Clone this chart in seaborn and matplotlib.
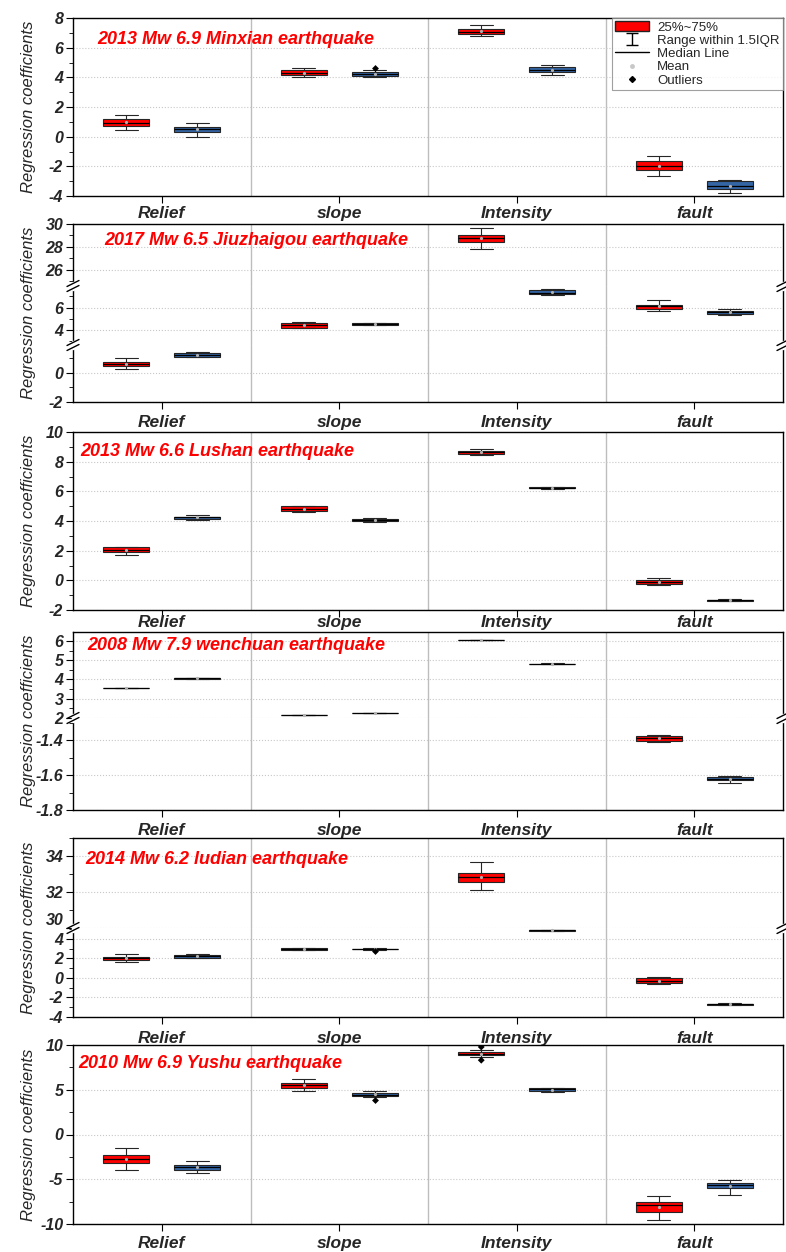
import numpy as np
import pandas as pd
import matplotlib.pyplot as plt
import seaborn as sns
from matplotlib.lines import Line2D
from matplotlib.patches import Patch
from matplotlib.path import Path
from matplotlib.ticker import MultipleLocator, FuncFormatter

factors = ['Relief', 'slope', 'Intensity', 'fault']
groups = ['red', 'blue']
colors = {'red': '#ff0000', 'blue': '#3465a4'}

# each box: [lower whisker, q1, median, q3, upper whisker], one per factor
minxian_red = [[0.47, 0.74, 0.95, 1.22, 1.49], [3.99, 4.17, 4.30, 4.47, 4.66],
               [6.80, 6.92, 7.05, 7.24, 7.50], [-2.65, -2.25, -1.95, -1.65, -1.30]]
minxian_blue = [[-0.05, 0.34, 0.50, 0.68, 0.95], [3.99, 4.11, 4.22, 4.33, 4.50],
                [4.15, 4.35, 4.50, 4.70, 4.85], [-3.80, -3.50, -3.30, -3.00, -2.95]]
minxian_out = [('slope', 'blue', 4.60)]

jiuzhai_red = [[0.28, 0.46, 0.62, 0.78, 1.03], [4.10, 4.18, 4.45, 4.64, 4.70],
               [27.83, 28.43, 28.74, 29.04, 29.65], [5.64, 5.90, 6.10, 6.27, 6.64]]
jiuzhai_blue = [[1.08, 1.10, 1.24, 1.38, 1.42], [4.38, 4.40, 4.50, 4.60, 4.62],
                [7.10, 7.18, 7.36, 7.55, 7.65], [5.36, 5.45, 5.55, 5.64, 5.90]]
jiuzhai_out = []

lushan_red = [[1.74, 1.91, 2.05, 2.22, 2.28], [4.60, 4.68, 4.83, 4.98, 5.00],
              [8.45, 8.52, 8.65, 8.72, 8.86], [-0.33, -0.25, -0.10, 0.05, 0.13]]
lushan_blue = [[4.10, 4.16, 4.24, 4.30, 4.43], [3.95, 4.00, 4.08, 4.16, 4.20],
               [6.18, 6.20, 6.24, 6.28, 6.30], [-1.40, -1.38, -1.34, -1.30, -1.27]]
lushan_out = []

wenchuan_red = [[3.53, 3.54, 3.55, 3.56, 3.57], [2.14, 2.145, 2.15, 2.155, 2.16],
                [6.04, 6.045, 6.05, 6.055, 6.06], [-1.41, -1.405, -1.39, -1.375, -1.37]]
wenchuan_blue = [[4.04, 4.045, 4.05, 4.055, 4.06], [2.24, 2.245, 2.25, 2.255, 2.26],
                 [4.81, 4.815, 4.82, 4.825, 4.83], [-1.645, -1.63, -1.62, -1.61, -1.605]]
wenchuan_out = []

ludian_red = [[1.65, 1.83, 2.00, 2.15, 2.45], [2.80, 2.85, 2.97, 3.07, 3.10],
              [32.10, 32.55, 32.83, 33.05, 33.67], [-0.64, -0.55, -0.30, -0.02, 0.08]]
ludian_blue = [[2.00, 2.05, 2.20, 2.35, 2.40], [2.85, 2.92, 2.95, 3.00, 3.02],
               [4.80, 4.82, 4.85, 4.88, 4.90], [-2.80, -2.78, -2.70, -2.62, -2.60]]
ludian_out = [('slope', 'blue', 2.70)]

yushu_red = [[-3.93, -3.15, -2.70, -2.25, -1.46], [4.83, 5.17, 5.50, 5.73, 6.18],
             [8.65, 8.88, 9.05, 9.20, 9.44], [-9.55, -8.65, -7.90, -7.50, -6.85]]
yushu_blue = [[-4.27, -3.93, -3.60, -3.37, -2.92], [4.20, 4.27, 4.45, 4.60, 4.83],
              [4.80, 4.83, 5.05, 5.17, 5.25], [-6.74, -5.96, -5.62, -5.40, -5.06]]
yushu_out = [('slope', 'blue', 3.82), ('Intensity', 'red', 9.78), ('Intensity', 'red', 8.30)]

titles = ['2013 Mw 6.9 Minxian earthquake', '2017 Mw 6.5 Jiuzhaigou earthquake',
          '2013 Mw 6.6 Lushan earthquake', '2008 Mw 7.9 wenchuan earthquake',
          '2014 Mw 6.2 ludian earthquake', '2010 Mw 6.9 Yushu earthquake']


def to_df(red, blue):
    rows = []
    for g, stats in (('red', red), ('blue', blue)):
        for f, vals in zip(factors, stats):
            for v in vals:
                rows.append((f, g, v))
    return pd.DataFrame(rows, columns=['factor', 'group', 'value'])


def out_df(items):
    return pd.DataFrame(items, columns=['factor', 'group', 'value'])


# layout in pixels: segments (top, bottom, ylim, major, minor), title pos, x label pad
panels = [
    dict(red=minxian_red, blue=minxian_blue, out=minxian_out, title_xy=(97, 40), xpad=2.5,
         segs=[(18, 196, (-4, 8), 2, 1)]),
    dict(red=jiuzhai_red, blue=jiuzhai_blue, out=jiuzhai_out, title_xy=(104, 240), xpad=4.5,
         segs=[(224, 286, (24.6, 30), 2, 1), (286, 345, (2.6, 7.95), 2, 1),
               (345, 402, (-2, 1.93), 2, 1)]),
    dict(red=lushan_red, blue=lushan_blue, out=lushan_out, title_xy=(80, 451), xpad=-1.5,
         segs=[(432, 610, (-2, 10), 2, 1)]),
    dict(red=wenchuan_red, blue=wenchuan_blue, out=wenchuan_out, title_xy=(87, 646), xpad=4.5,
         segs=[(632, 718, (2, 6.46), 1, 0.5), (718, 810, (-1.8, -1.274), 0.2, 0.1)]),
    dict(red=ludian_red, blue=ludian_blue, out=ludian_out, title_xy=(85, 860), xpad=5,
         lift=True, segs=[(838, 928, (30, 35), 2, 1), (928, 1017, (-4, 5.1), 2, 1)]),
    dict(red=yushu_red, blue=yushu_blue, out=yushu_out, title_xy=(78, 1064), xpad=3.5,
         segs=[(1045, 1224, (-10, 10), 5, 2.5)]),
]

sns.set_style('white')
plt.rcParams['font.family'] = ['Liberation Sans', 'DejaVu Sans']
plt.rcParams['font.weight'] = 'bold'
plt.rcParams['font.style'] = 'italic'
plt.rcParams['axes.unicode_minus'] = False

W, H = 786, 1252
L, R = 73, 783
fig = plt.figure(figsize=(W / 100, H / 100), dpi=100)


def px(x, y):
    return x / W, 1 - y / H


def draw_break(x, y):
    fig.add_artist(Line2D([x / W, x / W], [1 - (y - 3) / H, 1 - (y + 3) / H],
                          color='white', lw=2.5))
    for off in (-2.5, 2.5):
        fig.add_artist(Line2D([(x - 6) / W, (x + 6) / W],
                              [1 - (y + 3 + off) / H, 1 - (y - 3 + off) / H],
                              color='black', lw=1))


fmt = FuncFormatter(lambda v, _: f'{v:g}')
first_ax = None
lift = []

for p, title in zip(panels, titles):
    df = to_df(p['red'], p['blue'])
    odf = out_df(p['out'])
    segs = p['segs']
    for i, (top, bot, ylim, major, minor) in enumerate(segs):
        ax = fig.add_axes([L / W, 1 - bot / H, (R - L) / W, (bot - top) / H])
        if first_ax is None:
            first_ax = ax
        sns.boxplot(data=df, x='factor', y='value', hue='group', order=factors,
                    hue_order=groups, palette=colors, saturation=1, width=0.8,
                    gap=0.35, whis=np.inf, linecolor='#262626', linewidth=0.8,
                    showmeans=True,
                    meanprops=dict(marker='o', markersize=1.3, markerfacecolor='#b0b0b0',
                                   markeredgecolor='#b0b0b0'),
                    medianprops=dict(color='black', linewidth=0.9),
                    legend=False, ax=ax)
        if len(odf):
            sns.stripplot(data=odf, x='factor', y='value', hue='group', order=factors,
                          hue_order=groups, palette={'red': 'black', 'blue': 'black'},
                          dodge=True, jitter=False, marker='D', size=3.5,
                          legend=False, ax=ax, zorder=5)
        ax.set_xlim(-0.5, 3.5)
        ax.set_ylim(*ylim)
        ax.set_xlabel('')
        ax.set_ylabel('')
        ax.yaxis.set_major_locator(MultipleLocator(major))
        ax.yaxis.set_minor_locator(MultipleLocator(minor))
        ax.yaxis.set_major_formatter(fmt)
        ax.yaxis.grid(True, which='major', linestyle=':', color='#c8c8c8', linewidth=0.8)
        ax.xaxis.grid(False)
        ax.set_axisbelow(True)
        for xv in (0.5, 1.5, 2.5):
            ax.axvline(xv, color='#bdbdbd', linewidth=1, zorder=0.5)
        ax.tick_params(axis='y', which='both', direction='out', left=True, right=False,
                       labelsize=11.5, pad=2, color='black')
        ax.tick_params(axis='y', which='major', length=5)
        ax.tick_params(axis='y', which='minor', length=3)
        for s in ax.spines.values():
            s.set_color('black')
            s.set_linewidth(1)
        if i > 0:
            ax.spines['top'].set_visible(False)
        if i < len(segs) - 1:
            ax.spines['bottom'].set_visible(False)
            ax.tick_params(axis='x', bottom=False, labelbottom=False)
            if p.get('lift'):
                lift.append((ax, ylim[0]))
        else:
            ax.tick_params(axis='x', bottom=True, direction='out', length=5,
                           labelsize=12.5, pad=p['xpad'], color='black')
    for top, bot, *_ in segs[1:]:
        draw_break(L, top)
        draw_break(R, top)

    ptop, pbot = segs[0][0], segs[-1][1]
    fig.text(29 / W, 1 - (ptop + pbot) / 2 / H, 'Regression coefficients',
             rotation=90, ha='center', va='center', fontsize=12,
             fontweight='normal', fontstyle='italic')
    tx, ty = px(*p['title_xy'])
    fig.text(tx, ty, title, color='red', fontsize=13, fontweight='bold',
             fontstyle='italic', ha='left', va='center')

ibeam = Path([(-1, 1), (1, 1), (0, 1), (0, -1), (-1, -1), (1, -1)],
             [Path.MOVETO, Path.LINETO, Path.MOVETO, Path.LINETO, Path.MOVETO, Path.LINETO])
handles = [Patch(facecolor='#ff0000', edgecolor='#222222'),
           Line2D([], [], marker=ibeam, color='black', linestyle='none', markersize=9,
                  markeredgewidth=1),
           Line2D([], [], color='black', lw=1),
           Line2D([], [], marker='o', linestyle='none', markersize=2.5, color='#c8c8c8'),
           Line2D([], [], marker='D', linestyle='none', markersize=3, color='black')]
labels = ['25%~75%', 'Range within 1.5IQR', 'Median Line', 'Mean', 'Outliers']
leg = first_ax.legend(handles, labels, loc='upper right', bbox_to_anchor=(1.0, 1.0),
                      frameon=True, fancybox=False, edgecolor='#888888', borderpad=0.25,
                      labelspacing=0.08, handlelength=2.6, handletextpad=0.6,
                      borderaxespad=0, prop={'size': 9.5, 'weight': 'normal', 'style': 'normal'})
leg.get_frame().set_linewidth(0.8)

# the lowest label of an upper segment sits right on the break; lift it clear
fig.canvas.draw()
for ax, lo in lift:
    locs = ax.yaxis.get_majorticklocs()
    for loc, tick in zip(locs, ax.yaxis.get_major_ticks(len(locs))):
        if abs(loc - lo) < 1e-9:
            tick.label1.set_va('bottom')

fig.savefig('out.png', dpi=100)
